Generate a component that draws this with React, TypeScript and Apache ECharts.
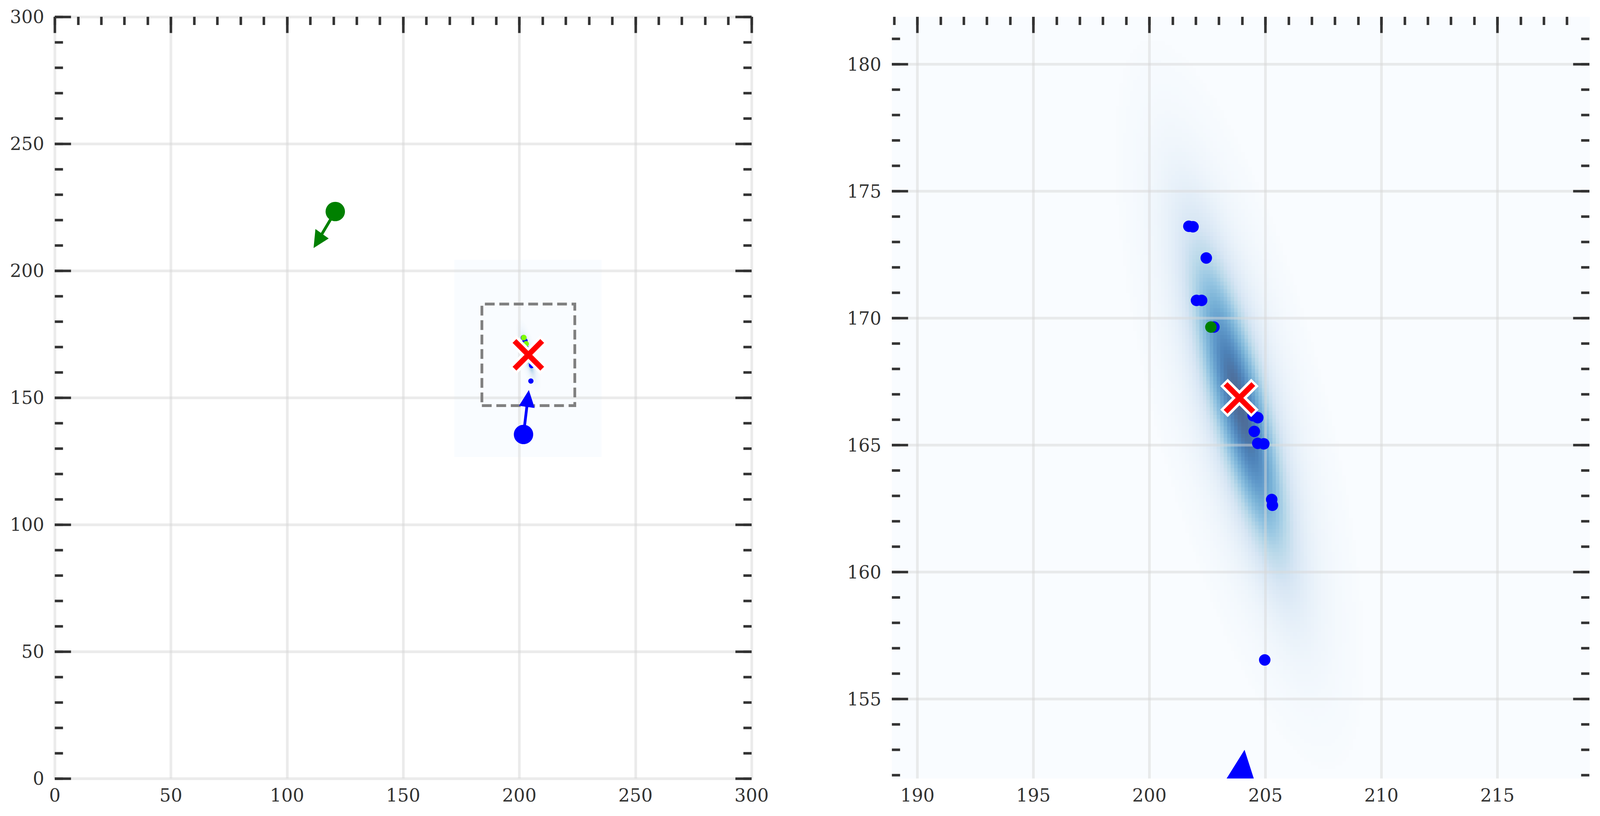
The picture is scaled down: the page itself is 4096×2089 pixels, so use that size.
import React, { useEffect, useRef } from 'react';
import * as echarts from 'echarts';

// ---------- axes ----------
const LEFT_X_RANGE = [0, 300];
const LEFT_Y_RANGE = [0, 300];
const LEFT_X_TICKS = [0, 50, 100, 150, 200, 250, 300];
const LEFT_Y_TICKS = [0, 50, 100, 150, 200, 250, 300];
const LEFT_MINOR_STEP = 10;

const RIGHT_X_RANGE = [188.9, 218.96];
const RIGHT_Y_RANGE = [151.87, 181.87];
const RIGHT_X_TICKS = [190, 195, 200, 205, 210, 215];
const RIGHT_Y_TICKS = [155, 160, 165, 170, 175, 180];
const RIGHT_MINOR_STEP = 1;

// ---------- data ----------
const BLUE_POINTS = [
  [201.7, 173.62], [201.88, 173.6], [202.45, 172.37], [202.03, 170.7], [202.25, 170.7],
  [202.78, 169.65], [204.47, 166.16], [204.67, 166.08], [204.52, 165.54], [204.67, 165.07],
  [204.93, 165.05], [205.27, 162.86], [205.3, 162.63], [204.97, 156.54],
];
const DARK_GREEN_POINTS = [[202.65, 169.65]];
const LIGHT_GREEN_POINTS = [[201.93, 173.64], [202.9, 171.2]];

const GREEN_AGENT = [120.75, 223.3];
const GREEN_ARROW_TIP = [111.41, 208.94];
const BLUE_AGENT = [201.8, 135.5];
const BLUE_ARROW_TIP = [204.1, 153.0];
const ARROW_HEAD_LENGTH = 6.7;
const ARROW_HEAD_WIDTH = 6.8;
const ARROW_SHAFT_WIDTH = 1.2;

const ESTIMATE = [203.88, 166.86];
const ZOOM_BOX = [183.88, 146.86, 223.88, 186.86];

// density: two components (core + halo)
const DENSITY_EXTENT = [172.0, 126.6, 235.4, 204.3];
const DENSITY_MEAN = [203.88, 166.6];
const DENSITY_AXIS = [0.27, -0.963];
const CORE_SIGMA = [3.9, 0.72];
const HALO_SIGMA = [6.0, 1.5];
const CORE_WEIGHT = 0.75;
const HALO_WEIGHT = 0.25;
const DENSITY_CELL = 0.15;

// ---------- styles ----------
const TICK_COLOR = '#333333';
const TICK_W = 6.5;
const MAJOR_LEN = 41.5;
const MINOR_LEN = 21;
const LABEL_STYLE = { color: '#333333', fontFamily: 'DejaVu Serif', fontSize: 46 };
const GRID_LINE = { color: 'rgba(215,215,215,0.5)', width: 6.8 };

const BLUES = [
  [247, 251, 255], [222, 235, 247], [198, 219, 239], [158, 202, 225], [107, 174, 214],
  [66, 146, 198], [33, 113, 181], [8, 81, 156], [8, 48, 107],
];
const HEAT_ALPHA = 0.72;

function blues(t: number) {
  const p = Math.max(0, Math.min(1, t)) * (BLUES.length - 1);
  const i = Math.min(BLUES.length - 2, Math.floor(p));
  const f = p - i;
  const c = [0, 1, 2].map((k) => BLUES[i][k] + (BLUES[i + 1][k] - BLUES[i][k]) * f);
  const b = c.map((v) => Math.round(HEAT_ALPHA * v + (1 - HEAT_ALPHA) * 255));
  return `rgb(${b[0]},${b[1]},${b[2]})`;
}
const PALETTE = Array.from({ length: 256 }, (_, i) => blues(i / 255));

function minorValues(range: number[], step: number) {
  const out: number[] = [];
  const start = Math.ceil(range[0] / step - 1e-9) * step;
  for (let v = start; v <= range[1] + 1e-9; v += step) out.push(Math.round(v * 1000) / 1000);
  return out;
}

function buildDensity() {
  const [x0, y0, x1, y1] = DENSITY_EXTENT;
  const nx = Math.floor((x1 - x0) / DENSITY_CELL);
  const ny = Math.floor((y1 - y0) / DENSITY_CELL);
  const [ux, uy] = DENSITY_AXIS;
  const n = Math.hypot(ux, uy);
  const ax = ux / n, ay = uy / n;
  const g = (u: number, w: number, s: number[]) => Math.exp(-0.5 * ((u * u) / (s[0] * s[0]) + (w * w) / (s[1] * s[1])));
  const cells: number[][] = [];
  for (let i = 0; i < nx; i++) {
    const cx = x0 + (i + 0.5) * DENSITY_CELL;
    for (let j = 0; j < ny; j++) {
      const cy = y0 + (j + 0.5) * DENSITY_CELL;
      const dx = cx - DENSITY_MEAN[0], dy = cy - DENSITY_MEAN[1];
      const u = dx * ax + dy * ay;
      const w = -dx * ay + dy * ax;
      const v = CORE_WEIGHT * g(u, w, CORE_SIGMA) + HALO_WEIGHT * g(u, w, HALO_SIGMA);
      if (v > 0.012) cells.push([cx, cy, v]);
    }
  }
  return cells;
}

function arrowPolygon(start: number[], tip: number[]) {
  const dx = tip[0] - start[0], dy = tip[1] - start[1];
  const L = Math.hypot(dx, dy);
  const ux = dx / L, uy = dy / L;
  const px = -uy, py = ux;
  const bx = tip[0] - ux * ARROW_HEAD_LENGTH, by = tip[1] - uy * ARROW_HEAD_LENGTH;
  const sw = ARROW_SHAFT_WIDTH / 2, hw = ARROW_HEAD_WIDTH / 2;
  return [
    [start[0] + px * sw, start[1] + py * sw],
    [bx + px * sw, by + py * sw],
    [bx + px * hw, by + py * hw],
    [tip[0], tip[1]],
    [bx - px * hw, by - py * hw],
    [bx - px * sw, by - py * sw],
    [start[0] - px * sw, start[1] - py * sw],
  ];
}

function axisBase(gridIndex: number, range: number[], position: string) {
  return {
    type: 'value',
    gridIndex,
    min: range[0],
    max: range[1],
    position,
    z: 1,
    axisLine: { show: false, onZero: false },
    minorTick: { show: false },
    minorSplitLine: { show: false },
  };
}

function tickAxis(gridIndex: number, range: number[], position: string, values: number[], len: number) {
  return {
    ...axisBase(gridIndex, range, position),
    axisTick: { show: true, inside: true, length: len, customValues: values, lineStyle: { color: TICK_COLOR, width: TICK_W, cap: 'butt' } },
    axisLabel: { show: false },
    splitLine: { show: false },
  };
}

function buildAxes(gridIndex: number, xr: number[], yr: number[], xt: number[], yt: number[], step: number) {
  const xMinor = minorValues(xr, step);
  const yMinor = minorValues(yr, step);
  const xAxes = [
    {
      ...axisBase(gridIndex, xr, 'bottom'),
      axisTick: { show: false, customValues: xt },
      axisLabel: { show: true, customValues: xt, margin: 20, ...LABEL_STYLE, formatter: (v: number) => String(v) },
      splitLine: { show: true, lineStyle: GRID_LINE },
    },
    tickAxis(gridIndex, xr, 'top', xt, MAJOR_LEN),
    tickAxis(gridIndex, xr, 'top', xMinor, MINOR_LEN),
  ];
  const yAxes = [
    {
      ...axisBase(gridIndex, yr, 'left'),
      axisTick: { show: true, inside: true, length: MAJOR_LEN, customValues: yt, lineStyle: { color: TICK_COLOR, width: TICK_W, cap: 'butt' } },
      axisLabel: { show: true, customValues: yt, margin: 27, ...LABEL_STYLE, formatter: (v: number) => String(v) },
      splitLine: { show: true, lineStyle: GRID_LINE },
    },
    tickAxis(gridIndex, yr, 'left', yMinor, MINOR_LEN),
    tickAxis(gridIndex, yr, 'right', yt, MAJOR_LEN),
    tickAxis(gridIndex, yr, 'right', yMinor, MINOR_LEN),
  ];
  return { xAxes, yAxes };
}

export default function App() {
  const ref = useRef<HTMLDivElement>(null);
  useEffect(() => {
    if (!ref.current) return;
    const chart = echarts.init(ref.current, undefined, { renderer: 'svg' });
    const left = buildAxes(0, LEFT_X_RANGE, LEFT_Y_RANGE, LEFT_X_TICKS, LEFT_Y_TICKS, LEFT_MINOR_STEP);
    const right = buildAxes(1, RIGHT_X_RANGE, RIGHT_Y_RANGE, RIGHT_X_TICKS, RIGHT_Y_TICKS, RIGHT_MINOR_STEP);
    const density = buildDensity();
    const h = DENSITY_CELL / 2;

    const panels = [
      { xi: 0, yi: 0, dot: 13.5, left: true },
      { xi: 3, yi: 4, dot: 29.5, left: false },
    ];
    const dotStyle = (color: string) => ({ color, opacity: 1 });
    const series: any[] = [];
    panels.forEach((p) => {
      const ax = { xAxisIndex: p.xi, yAxisIndex: p.yi };
      series.push({
        type: 'custom', ...ax, z: 0, clip: true, silent: true,
        data: [DENSITY_EXTENT],
        encode: { x: [0, 2], y: [1, 3] },
        renderItem: (params: any, api: any) => {
          const a = api.coord([api.value(0), api.value(3)]);
          const b = api.coord([api.value(2), api.value(1)]);
          return { type: 'rect', shape: { x: a[0], y: a[1], width: b[0] - a[0], height: b[1] - a[1] }, style: { fill: PALETTE[0] } };
        },
      });
      series.push({
        type: 'custom', ...ax, z: 0, clip: true, silent: true,
        data: density,
        encode: { x: 0, y: 1 },
        renderItem: (params: any, api: any) => {
          const x = api.value(0), y = api.value(1), v = api.value(2);
          const a = api.coord([x - h, y + h]);
          const b = api.coord([x + h, y - h]);
          return {
            type: 'rect',
            shape: { x: a[0], y: a[1], width: b[0] - a[0] + 0.7, height: b[1] - a[1] + 0.7 },
            style: { fill: PALETTE[Math.min(255, Math.round(v * 255))] },
          };
        },
      });
      if (p.left) {
        series.push({
          type: 'custom', ...ax, z: 3, clip: true, silent: true,
          data: [ZOOM_BOX],
          encode: { x: [0, 2], y: [1, 3] },
          renderItem: (params: any, api: any) => {
            const a = api.coord([api.value(0), api.value(1)]);
            const b = api.coord([api.value(2), api.value(3)]);
            return {
              type: 'polygon',
              shape: { points: [[a[0], a[1]], [b[0], a[1]], [b[0], b[1]], [a[0], b[1]]] },
              style: { fill: 'none', stroke: '#808080', lineWidth: 7.1, lineDash: [25, 12] },
            };
          },
        });
      }
      const arrows = p.left
        ? [[...GREEN_AGENT, ...GREEN_ARROW_TIP, 0], [...BLUE_AGENT, ...BLUE_ARROW_TIP, 1]]
        : [[...BLUE_AGENT, ...BLUE_ARROW_TIP, 1]];
      series.push({
        type: 'custom', ...ax, z: 3, clip: true, silent: true,
        data: arrows,
        encode: { x: [0, 2], y: [1, 3] },
        renderItem: (params: any, api: any) => {
          const poly = arrowPolygon([api.value(0), api.value(1)], [api.value(2), api.value(3)]);
          return {
            type: 'polygon',
            shape: { points: poly.map((pt) => api.coord(pt)) },
            style: { fill: api.value(4) === 0 ? '#008000' : '#0000FF' },
          };
        },
      });
      if (p.left) {
        series.push({ type: 'scatter', ...ax, z: 4, symbol: 'circle', symbolSize: 49.6, itemStyle: dotStyle('#008000'), data: [GREEN_AGENT] });
        series.push({ type: 'scatter', ...ax, z: 4, symbol: 'circle', symbolSize: 49.6, itemStyle: dotStyle('#0000FF'), data: [BLUE_AGENT] });
      }
      series.push({ type: 'scatter', ...ax, z: 4, symbol: 'circle', symbolSize: p.dot, itemStyle: dotStyle('#0000FF'), data: BLUE_POINTS });
      series.push({ type: 'scatter', ...ax, z: 5, symbol: 'circle', symbolSize: p.dot, itemStyle: dotStyle('#008000'), data: DARK_GREEN_POINTS });
      if (p.left) {
        series.push({ type: 'scatter', ...ax, z: 5, symbol: 'circle', symbolSize: 14.5, itemStyle: dotStyle('#7CFC00'), data: LIGHT_GREEN_POINTS });
      }
      series.push({
        type: 'custom', ...ax, z: 6, clip: true, silent: true,
        data: [ESTIMATE],
        encode: { x: 0, y: 1 },
        renderItem: (params: any, api: any) => {
          const c = api.coord([api.value(0), api.value(1)]);
          const a = 35.5, aw = 39.6;
          const mk = (s: number, len: number, color: string, w: number) => ({
            type: 'line',
            shape: { x1: c[0] - len, y1: c[1] - s * len, x2: c[0] + len, y2: c[1] + s * len },
            style: { stroke: color, lineWidth: w, lineCap: 'butt' },
          });
          return {
            type: 'group',
            children: [mk(1, aw, '#FFFFFF', 27), mk(-1, aw, '#FFFFFF', 27), mk(1, a, '#FF0000', 13.8), mk(-1, a, '#FF0000', 13.8)],
          };
        },
      });
    });

    chart.setOption({
      animation: false,
      backgroundColor: '#FFFFFF',
      grid: [
        { left: 140.3, top: 43, width: 1783.8, height: 1950 },
        { left: 2283.2, top: 43, width: 1785.5, height: 1950 },
      ],
      xAxis: [...left.xAxes, ...right.xAxes],
      yAxis: [...left.yAxes, ...right.yAxes],
      series,
    });
    return () => chart.dispose();
  }, []);
  return <div ref={ref} style={{ position: 'fixed', left: 0, top: 0, width: 4096, height: 2089 }} />;
}
